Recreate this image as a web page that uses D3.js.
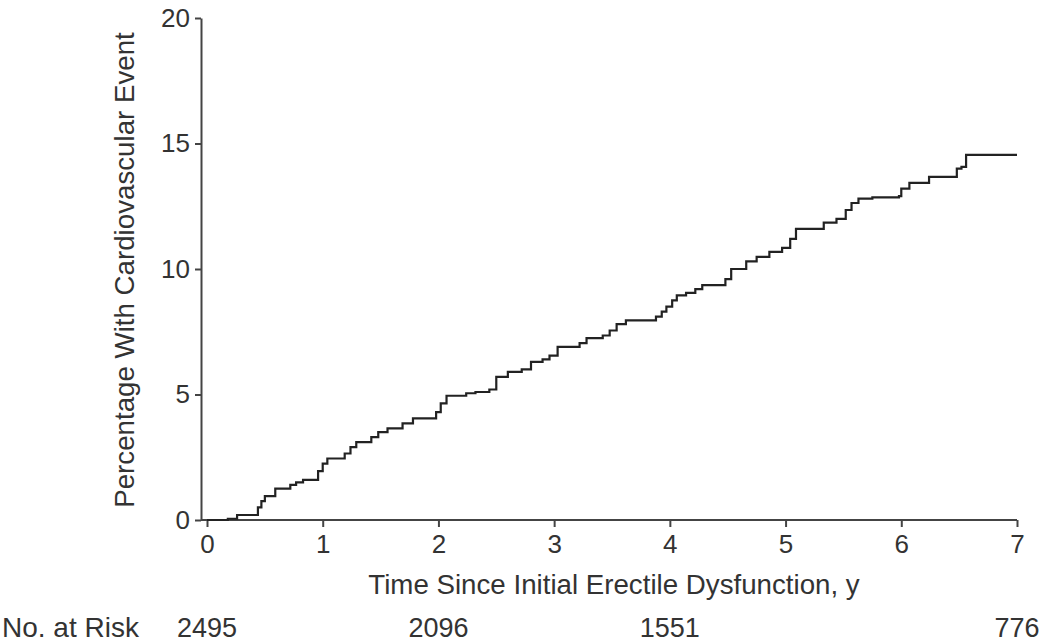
<!DOCTYPE html>
<html>
<head>
<meta charset="utf-8">
<script src="https://cdn.jsdelivr.net/npm/d3@7"></script>
<style>
  body { margin: 0; background: #fff; }
  svg text { font-family: "Liberation Sans", Arial, sans-serif; fill: #333; }
</style>
</head>
<body>
<svg id="chart" width="1042" height="643"></svg>
<script>
'use strict';
// step curve (years, percent)
const times = [0, 0.18, 0.26, 0.44, 0.47, 0.50, 0.59, 0.72, 0.77, 0.83, 0.96, 1.0, 1.04,
    1.19, 1.24, 1.29, 1.42, 1.48, 1.56, 1.69, 1.78, 1.98, 2.02, 2.07, 2.24, 2.32, 2.44,
    2.50, 2.60, 2.72, 2.80, 2.90, 2.96, 3.03, 3.22, 3.28, 3.42, 3.48, 3.54, 3.62, 3.88,
    3.93, 3.97, 4.02, 4.06, 4.14, 4.22, 4.28, 4.48, 4.53, 4.66, 4.75, 4.86, 4.97, 5.04,
    5.09, 5.33, 5.44, 5.52, 5.57, 5.63, 5.75, 5.98, 6.0, 6.07, 6.24, 6.48, 6.52, 6.56, 7.0];
const pct = [0, 0.05, 0.2, 0.5, 0.75, 0.95, 1.25, 1.4, 1.5, 1.6, 1.95, 2.25, 2.45,
    2.65, 2.9, 3.1, 3.3, 3.5, 3.65, 3.85, 4.05, 4.3, 4.65, 4.95, 5.05, 5.1, 5.2,
    5.7, 5.9, 6.0, 6.3, 6.4, 6.55, 6.9, 7.05, 7.25, 7.35, 7.55, 7.8, 7.95, 8.1,
    8.3, 8.5, 8.75, 8.95, 9.05, 9.2, 9.36, 9.6, 10.0, 10.3, 10.48, 10.68, 10.84, 11.2,
    11.6, 11.85, 12.0, 12.35, 12.63, 12.8, 12.85, 12.9, 13.2, 13.43, 13.67, 14.0, 14.07, 14.55, 14.55];

const xTicks = [0, 1, 2, 3, 4, 5, 6, 7];
const yTicks = [0, 5, 10, 15, 20];
const riskTimes = [0, 2, 4, 7];
const riskCounts = [2495, 2096, 1551, 776];

const svg = d3.select('#chart');
const x = d3.scaleLinear().domain([0, 7]).range([207, 1017]);
const y = d3.scaleLinear().domain([0, 20]).range([520, 18]);
const axisX0 = 201;
const fam = '"Liberation Sans", Arial, sans-serif';

// y axis
let gy = svg.append('g').attr('transform', `translate(${axisX0},0)`)
    .call(d3.axisLeft(y).tickValues(yTicks).tickFormat(d3.format('d'))
        .tickSize(6).tickSizeOuter(0).tickPadding(5));
gy.select('.domain').attr('stroke', '#444').attr('stroke-width', 2);
gy.selectAll('.tick line').attr('stroke', '#444').attr('stroke-width', 2);
gy.selectAll('.tick text').attr('font-size', 26).attr('fill', '#333').attr('font-family', fam);

// x axis
let gx = svg.append('g').attr('transform', 'translate(0,520)')
    .call(d3.axisBottom(x).tickValues(xTicks).tickFormat(d3.format('d'))
        .tickSize(7).tickSizeOuter(0).tickPadding(8));
gx.select('.domain').attr('d', `M${axisX0},0H${x(7)}`).attr('stroke', '#444').attr('stroke-width', 2);
gx.selectAll('.tick line').attr('stroke', '#444').attr('stroke-width', 2);
gx.selectAll('.tick text').attr('font-size', 26).attr('fill', '#333').attr('font-family', fam);

// curve
let pts = times.map((t, i) => [t, pct[i]]);
let line = d3.line().x(d => x(d[0])).y(d => y(d[1])).curve(d3.curveStepAfter);
svg.append('path').datum(pts).attr('d', line)
    .attr('fill', 'none').attr('stroke', '#222').attr('stroke-width', 2.2);

// titles
svg.append('text').attr('x', 614).attr('y', 594).attr('text-anchor', 'middle')
    .attr('font-size', 27.7).text('Time Since Initial Erectile Dysfunction, y');
svg.append('text').attr('transform', 'translate(134,270) rotate(-90)')
    .attr('text-anchor', 'middle').attr('font-size', 27.7)
    .text('Percentage With Cardiovascular Event');

// number at risk
svg.append('text').attr('x', 2).attr('y', 637).attr('font-size', 28).text('No. at Risk');
svg.selectAll('.risk').data(riskTimes).enter().append('text')
    .attr('class', 'risk')
    .attr('x', d => x(d)).attr('y', 637).attr('text-anchor', 'middle')
    .attr('font-size', 27).text((d, i) => riskCounts[i]);
</script>
</body>
</html>
